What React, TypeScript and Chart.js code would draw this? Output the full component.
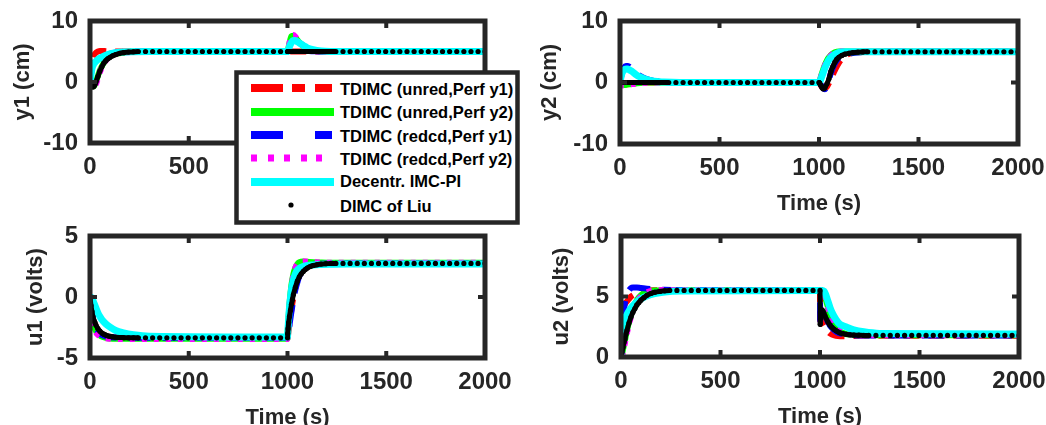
import React, { useEffect, useRef } from 'react';
import { Chart, registerables } from 'chart.js';

Chart.register(...registerables);

const FONT = "'Liberation Sans', Arial, Helvetica, sans-serif";
const INK = '#262626';

// ---------- data ----------
const xTicks = [0, 500, 1000, 1500, 2000];
const seriesNames = [
  'TDIMC (unred,Perf y1)',
  'TDIMC (unred,Perf y2)',
  'TDIMC (redcd,Perf y1)',
  'TDIMC (redcd,Perf y2)',
  'Decentr. IMC-PI',
  'DIMC of Liu',
];

// simulation time grid for the five controller curves
const tSim = [0, 5, 10, 20, 30, 40, 50, 60, 80, 100, 130, 170, 220, 300, 1000, 1001, 1005, 1010, 1020, 1030, 1040, 1050, 1060, 1080, 1100, 1130, 1170, 1220, 1300, 2000];

// y1 (cm)
const y1Red = [0, 1.5, 3.0, 4.3, 4.8, 5.0, 5.1, 5.1, 5.05, 5.0, 5.0, 5.0, 5.0, 5.0, 5.0, 5.0, 5.0, 5.0, 5.0, 5.0, 5.0, 5.0, 5.0, 5.0, 5.0, 5.0, 5.0, 5.0, 5.0, 5.0];
const y1Green = [0, -0.4, -0.7, -0.7, 0.0, 1.0, 1.9, 2.6, 3.6, 4.2, 4.6, 4.85, 4.95, 5.0, 5.0, 5.05, 5.6, 6.4, 7.5, 7.6, 7.3, 6.9, 6.5, 5.9, 5.5, 5.2, 5.05, 5.0, 5.0, 5.0];
const y1Blue = [0, 1.2, 2.5, 3.8, 4.2, 4.0, 3.8, 3.9, 4.3, 4.6, 4.85, 4.95, 5.0, 5.0, 5.0, 5.0, 5.1, 5.2, 5.4, 5.5, 5.5, 5.4, 5.3, 5.2, 5.1, 5.05, 5.0, 5.0, 5.0, 5.0];
const y1Mag = [0, -0.5, -0.9, -1.0, -0.4, 0.6, 1.6, 2.4, 3.5, 4.1, 4.6, 4.85, 4.95, 5.0, 5.0, 5.05, 5.6, 6.4, 7.5, 7.7, 7.4, 7.0, 6.6, 6.0, 5.5, 5.2, 5.05, 5.0, 5.0, 5.0];
const y1Cyan = [0, 1.2, 2.2, 3.0, 3.4, 3.7, 3.9, 4.1, 4.4, 4.6, 4.8, 4.92, 4.97, 5.0, 5.0, 5.0, 5.3, 5.8, 6.5, 6.8, 6.8, 6.6, 6.4, 6.0, 5.6, 5.3, 5.1, 5.02, 5.0, 5.0];

// y2 (cm)
const y2Red = [0, -0.1, -0.2, -0.3, -0.3, -0.3, -0.2, -0.2, -0.1, -0.1, 0, 0, 0, 0, 0, 0, -0.2, -0.5, -0.9, -1.0, -0.7, -0.1, 0.6, 2.0, 3.2, 4.3, 4.8, 4.95, 5.0, 5.0];
const y2Green = [0, -0.2, -0.3, -0.4, -0.4, -0.3, -0.3, -0.2, -0.15, -0.1, 0, 0, 0, 0, 0, 0.05, 0.4, 1.0, 2.0, 2.9, 3.6, 4.1, 4.5, 4.9, 5.05, 5.05, 5.0, 5.0, 5.0, 5.0];
const y2Blue = [0, 0.8, 1.6, 2.4, 2.7, 2.7, 2.5, 2.2, 1.6, 1.1, 0.6, 0.25, 0.1, 0, 0, 0, -0.15, -0.4, -0.9, -1.1, -0.5, 0.5, 1.6, 3.1, 4.0, 4.5, 4.8, 4.95, 5.0, 5.0];
const y2Mag = [0, -0.2, -0.4, -0.5, -0.5, -0.4, -0.3, -0.25, -0.2, -0.1, -0.05, 0, 0, 0, 0, 0.05, 0.3, 0.9, 1.9, 2.8, 3.5, 4.0, 4.4, 4.85, 5.05, 5.05, 5.0, 5.0, 5.0, 5.0];
const y2Cyan = [0, 0.9, 1.5, 2.0, 2.2, 2.2, 2.0, 1.8, 1.3, 0.9, 0.5, 0.2, 0.08, 0, 0, 0, 0.2, 0.6, 1.5, 2.4, 3.1, 3.7, 4.1, 4.6, 4.9, 5.0, 5.0, 5.0, 5.0, 5.0];

// u1 (volts)
const u1Red = [0, -0.9, -1.5, -2.2, -2.6, -2.85, -3.0, -3.1, -3.22, -3.28, -3.32, -3.34, -3.35, -3.35, -3.35, -3.3, -2.8, -2.2, -1.0, 0.0, 0.8, 1.4, 1.8, 2.3, 2.55, 2.7, 2.75, 2.77, 2.77, 2.77];
const u1Green = [0, -0.9, -1.6, -2.4, -2.8, -3.0, -3.15, -3.25, -3.35, -3.4, -3.42, -3.42, -3.42, -3.42, -3.42, -3.0, -1.8, -0.6, 1.0, 1.9, 2.4, 2.7, 2.85, 2.9, 2.88, 2.85, 2.82, 2.8, 2.8, 2.8];
const u1Blue = [0, -0.8, -1.4, -2.1, -2.5, -2.8, -3.0, -3.1, -3.22, -3.28, -3.32, -3.34, -3.35, -3.35, -3.35, -3.3, -2.9, -2.3, -1.2, -0.2, 0.6, 1.2, 1.7, 2.2, 2.5, 2.65, 2.72, 2.75, 2.75, 2.75];
const u1Mag = [0, -1.0, -1.7, -2.5, -2.9, -3.1, -3.2, -3.3, -3.38, -3.42, -3.45, -3.45, -3.45, -3.45, -3.45, -3.1, -2.0, -0.8, 0.8, 1.8, 2.4, 2.7, 2.85, 2.92, 2.9, 2.86, 2.83, 2.8, 2.8, 2.8];
const u1Cyan = [0, 0, -0.1, -0.5, -0.9, -1.3, -1.6, -1.85, -2.2, -2.45, -2.75, -2.95, -3.1, -3.22, -3.28, -3.0, -2.0, -0.9, 0.6, 1.4, 1.9, 2.2, 2.35, 2.5, 2.58, 2.63, 2.66, 2.68, 2.7, 2.7];

// u2 (volts)
const u2Red = [0, 3.8, 4.2, 4.4, 4.6, 4.8, 5.0, 5.1, 5.3, 5.4, 5.5, 5.52, 5.53, 5.53, 5.53, 3.0, 3.0, 2.9, 2.6, 2.3, 2.1, 1.95, 1.85, 1.75, 1.72, 1.72, 1.74, 1.75, 1.76, 1.76];
const u2Green = [0, 0.2, 0.6, 1.4, 2.2, 2.9, 3.5, 4.0, 4.7, 5.1, 5.4, 5.5, 5.52, 5.52, 5.52, 5.52, 5.5, 5.45, 5.2, 4.7, 4.1, 3.5, 3.0, 2.4, 2.1, 1.9, 1.82, 1.8, 1.8, 1.8];
const u2Blue = [0, 1.5, 3.0, 4.5, 5.2, 5.5, 5.7, 5.75, 5.75, 5.7, 5.65, 5.6, 5.55, 5.53, 5.53, 3.0, 3.4, 3.6, 3.5, 3.2, 2.9, 2.6, 2.4, 2.1, 1.95, 1.85, 1.8, 1.78, 1.78, 1.78];
const u2Mag = [0, 0.1, 0.4, 1.2, 2.0, 2.7, 3.3, 3.8, 4.6, 5.0, 5.35, 5.5, 5.53, 5.53, 5.53, 5.53, 5.5, 5.45, 5.25, 4.8, 4.2, 3.6, 3.1, 2.5, 2.15, 1.92, 1.83, 1.8, 1.8, 1.8];
const u2Cyan = [0, 2.5, 2.8, 3.2, 3.5, 3.8, 4.05, 4.25, 4.55, 4.8, 5.05, 5.25, 5.38, 5.45, 5.5, 5.5, 5.5, 5.5, 5.45, 5.1, 4.6, 4.1, 3.7, 3.1, 2.7, 2.5, 2.25, 2.08, 1.95, 1.9];

// DIMC of Liu: solver sample times (dense near set-point changes)
const tLiu = [
  0, 5, 10, 15, 20, 25, 30, 40, 50, 60, 70, 80, 90, 100, 115, 130, 150, 170, 195, 220, 245,
  281, 317, 353, 389, 425, 461, 497, 533, 569, 605, 641, 677, 713, 749, 785, 821, 857, 893, 929, 965,
  1000, 1001, 1003, 1006, 1010, 1015, 1020, 1025, 1030, 1040, 1050, 1060, 1070, 1080, 1090, 1100, 1115, 1130, 1150, 1170, 1195, 1220, 1245,
  1281, 1317, 1353, 1389, 1425, 1461, 1497, 1533, 1569, 1605, 1641, 1677, 1713, 1749, 1785, 1821, 1857, 1893, 1929, 1965, 2000,
];
const y1Liu = [
  0, -0.4, -0.7, -0.8, -0.7, -0.4, 0.0, 0.9, 1.8, 2.5, 3.1, 3.5, 3.8, 4.0, 4.3, 4.5, 4.7, 4.8, 4.9, 4.95, 5.0,
  5, 5, 5, 5, 5, 5, 5, 5, 5, 5, 5, 5, 5, 5, 5, 5, 5, 5, 5, 5,
  5, 5, 5, 5, 5, 5, 5, 5, 5, 5, 5, 5, 5, 5, 5, 5, 5, 5, 5, 5, 5, 5, 5,
  5, 5, 5, 5, 5, 5, 5, 5, 5, 5, 5, 5, 5, 5, 5, 5, 5, 5, 5, 5, 5,
];
const y2Liu = [
  0, 0, 0, 0, 0, 0, 0, 0, 0, 0, 0, 0, 0, 0, 0, 0, 0, 0, 0, 0, 0,
  0, 0, 0, 0, 0, 0, 0, 0, 0, 0, 0, 0, 0, 0, 0, 0, 0, 0, 0, 0,
  0, 0, -0.1, -0.3, -0.5, -0.8, -1.0, -1.0, -0.8, -0.2, 0.6, 1.8, 2.6, 3.3, 3.8, 4.1, 4.4, 4.6, 4.75, 4.85, 4.93, 4.97, 5.0,
  5, 5, 5, 5, 5, 5, 5, 5, 5, 5, 5, 5, 5, 5, 5, 5, 5, 5, 5, 5, 5,
];
const u1Liu = [
  0, -0.7, -1.2, -1.6, -1.9, -2.1, -2.3, -2.6, -2.8, -2.95, -3.05, -3.12, -3.18, -3.22, -3.27, -3.3, -3.32, -3.33, -3.34, -3.35, -3.35,
  -3.35, -3.35, -3.35, -3.35, -3.35, -3.35, -3.35, -3.35, -3.35, -3.35, -3.35, -3.35, -3.35, -3.35, -3.35, -3.35, -3.35, -3.35, -3.35, -3.35,
  -3.35, -3.0, -2.6, -2.1, -1.6, -1.1, -0.6, -0.2, 0.2, 0.8, 1.3, 1.65, 1.9, 2.1, 2.25, 2.37, 2.5, 2.58, 2.65, 2.7, 2.73, 2.75, 2.75,
  2.75, 2.75, 2.75, 2.75, 2.75, 2.75, 2.75, 2.75, 2.75, 2.75, 2.75, 2.75, 2.75, 2.75, 2.75, 2.75, 2.75, 2.75, 2.75, 2.75, 2.75,
];
const u2Liu = [
  0, 0.4, 0.8, 1.2, 1.5, 1.9, 2.2, 2.8, 3.3, 3.7, 4.0, 4.3, 4.5, 4.7, 4.9, 5.1, 5.25, 5.35, 5.42, 5.47, 5.5,
  5.5, 5.5, 5.5, 5.5, 5.5, 5.5, 5.5, 5.5, 5.5, 5.5, 5.5, 5.5, 5.5, 5.5, 5.5, 5.5, 5.5, 5.5, 5.5, 5.5,
  5.5, 2.7, 3.3, 3.7, 3.9, 3.8, 3.6, 3.4, 3.2, 2.9, 2.65, 2.45, 2.3, 2.18, 2.08, 2.0, 1.93, 1.88, 1.84, 1.81, 1.8, 1.78, 1.78,
  1.78, 1.78, 1.78, 1.78, 1.78, 1.78, 1.78, 1.78, 1.78, 1.78, 1.78, 1.78, 1.78, 1.78, 1.78, 1.78, 1.78, 1.78, 1.78, 1.78, 1.78,
];

// ---------- styling ----------
const seriesStyles = [
  { color: '#ff0000', width: 6, dash: [16, 9], order: 5 },
  { color: '#00ff00', width: 6, dash: [], order: 4 },
  { color: '#0000ff', width: 6, dash: [22, 12], order: 3 },
  { color: '#ff00ff', width: 6, dash: [5, 7], order: 2 },
  { color: '#00ffff', width: 7, dash: [], order: 1 },
];

type Panel = {
  id: string;
  yLabel: string;
  yMin: number;
  yMax: number;
  yStep: number;
  series: number[][];
  liu: number[];
  box: { left: number; right: number; top: number; bottom: number };
  yTitleCenter: number;
};

const panels: Panel[] = [
  { id: 'y1', yLabel: 'y1 (cm)', yMin: -10, yMax: 10, yStep: 10, series: [y1Red, y1Green, y1Blue, y1Mag, y1Cyan], liu: y1Liu, box: { left: 90, right: 485, top: 21, bottom: 143 }, yTitleCenter: 23 },
  { id: 'y2', yLabel: 'y2 (cm)', yMin: -10, yMax: 10, yStep: 10, series: [y2Red, y2Green, y2Blue, y2Mag, y2Cyan], liu: y2Liu, box: { left: 620, right: 1018, top: 21, bottom: 144 }, yTitleCenter: 550 },
  { id: 'u1', yLabel: 'u1 (volts)', yMin: -5, yMax: 5, yStep: 5, series: [u1Red, u1Green, u1Blue, u1Mag, u1Cyan], liu: u1Liu, box: { left: 90, right: 485, top: 236, bottom: 358 }, yTitleCenter: 36 },
  { id: 'u2', yLabel: 'u2 (volts)', yMin: 0, yMax: 10, yStep: 5, series: [u2Red, u2Green, u2Blue, u2Mag, u2Cyan], liu: u2Liu, box: { left: 621, right: 1019, top: 236, bottom: 357 }, yTitleCenter: 562 },
];

const Y_AXIS_W = 90;
const X_AXIS_H = 76;
const PAD_TOP = 28;
const PAD_RIGHT = 42;
const TICK_FONT = { family: FONT, size: 24, weight: 'bold' as const };
const TITLE_FONT = { family: FONT, size: 22, weight: 'bold' as const };

function canvasGeom(p: Panel) {
  const left = p.box.left - Y_AXIS_W;
  const top = p.box.top - PAD_TOP;
  const width = Y_AXIS_W + (p.box.right - p.box.left) + PAD_RIGHT;
  const height = PAD_TOP + (p.box.bottom - p.box.top) + X_AXIS_H;
  return { left, top, width, height };
}

const framePlugin = {
  id: 'matlabFrame',
  afterDraw(chart: any) {
    const { ctx, chartArea, scales } = chart;
    const { left, right, top, bottom } = chartArea;
    ctx.save();
    ctx.strokeStyle = INK;
    ctx.lineWidth = 5;
    ctx.strokeRect(left, top, right - left, bottom - top);
    ctx.fillStyle = INK;
    const xs = scales.x;
    const ys = scales.y;
    xs.ticks.forEach((t: any) => {
      if (t.value > xs.min && t.value < xs.max) {
        const px = xs.getPixelForValue(t.value);
        ctx.fillRect(px - 2, top, 4, 7);
        ctx.fillRect(px - 2, bottom - 7, 4, 7);
      }
    });
    ys.ticks.forEach((t: any) => {
      if (t.value > ys.min && t.value < ys.max) {
        const py = ys.getPixelForValue(t.value);
        ctx.fillRect(left, py - 2, 7, 4);
        ctx.fillRect(right - 7, py - 2, 7, 4);
      }
    });
    ctx.restore();
  },
};

function buildConfig(p: Panel): any {
  const datasets: any[] = p.series.map((vals, i) => {
    const s = seriesStyles[i];
    return {
      label: seriesNames[i],
      data: tSim.map((t, k) => ({ x: t, y: vals[k] })),
      borderColor: s.color,
      backgroundColor: s.color,
      borderWidth: s.width,
      borderDash: s.dash,
      borderCapStyle: 'butt',
      pointRadius: 0,
      fill: false,
      cubicInterpolationMode: 'monotone',
      order: s.order,
    };
  });
  datasets.push({
    label: seriesNames[5],
    data: tLiu.map((t, k) => ({ x: t, y: p.liu[k] })),
    borderColor: '#000000',
    backgroundColor: '#000000',
    borderWidth: 5,
    pointRadius: 2.6,
    pointBorderWidth: 0,
    pointBackgroundColor: '#000000',
    fill: false,
    cubicInterpolationMode: 'monotone',
    segment: {
      borderColor: (ctx: any) => (ctx.p1.parsed.x - ctx.p0.parsed.x < 26 ? '#000000' : 'rgba(0,0,0,0)'),
    },
    order: 0,
  });

  const plain = (v: any) => String(v);

  return {
    type: 'line',
    data: { datasets },
    options: {
      animation: false,
      responsive: false,
      maintainAspectRatio: false,
      events: [],
      layout: { padding: { top: PAD_TOP, right: PAD_RIGHT, left: 0, bottom: 0 } },
      plugins: { legend: { display: false }, tooltip: { enabled: false } },
      scales: {
        x: {
          type: 'linear',
          min: 0,
          max: 2000,
          afterFit: (s: any) => { s.height = X_AXIS_H; },
          afterBuildTicks: (s: any) => { s.ticks = xTicks.map((v) => ({ value: v })); },
          grid: { display: false, drawTicks: false },
          border: { display: false },
          ticks: { font: TICK_FONT, color: INK, padding: 10, maxRotation: 0, autoSkip: false, callback: plain },
          title: {
            display: true,
            text: 'Time (s)',
            font: TITLE_FONT,
            color: INK,
            padding: { top: 0, bottom: X_AXIS_H - 60 - TITLE_FONT.size * 0.6 },
          },
        },
        y: {
          type: 'linear',
          min: p.yMin,
          max: p.yMax,
          afterFit: (s: any) => { s.width = Y_AXIS_W; },
          grid: { display: false, drawTicks: false },
          border: { display: false },
          ticks: { stepSize: p.yStep, font: TICK_FONT, color: INK, padding: 12, callback: plain },
          title: {
            display: true,
            text: p.yLabel,
            font: TITLE_FONT,
            color: INK,
            padding: { top: p.yTitleCenter - (p.box.left - Y_AXIS_W) - TITLE_FONT.size * 0.6, bottom: 0 },
          },
        },
      },
    },
    plugins: [framePlugin],
  };
}

function PanelChart({ p }: { p: Panel }) {
  const ref = useRef<HTMLCanvasElement | null>(null);
  const g = canvasGeom(p);
  useEffect(() => {
    if (!ref.current) return;
    const chart = new Chart(ref.current, buildConfig(p));
    return () => chart.destroy();
  }, []);
  return (
    <canvas
      ref={ref}
      width={g.width}
      height={g.height}
      style={{ position: 'absolute', left: g.left, top: g.top, width: g.width, height: g.height }}
    />
  );
}

function Legend() {
  const rows = [18, 42, 65, 88, 112, 135];
  const textRows = [19, 42, 66, 89, 111, 136];
  return (
    <svg
      width={286}
      height={156}
      style={{ position: 'absolute', left: 234, top: 70 }}
    >
      <rect x={2.5} y={2.5} width={281} height={150} fill="#ffffff" stroke={INK} strokeWidth={4.5} />
      {/* red dashed */}
      <rect x={17} y={rows[0] - 4} width={32} height={8} fill="#ff0000" />
      <rect x={58} y={rows[0] - 4} width={13} height={8} fill="#ff0000" />
      <rect x={81} y={rows[0] - 4} width={17} height={8} fill="#ff0000" />
      {/* green solid */}
      <rect x={17} y={rows[1] - 4} width={83} height={8} fill="#00ff00" />
      {/* blue dash-dot */}
      <rect x={17} y={rows[2] - 4} width={32} height={8} fill="#0000ff" />
      <rect x={81} y={rows[2] - 4} width={17} height={8} fill="#0000ff" />
      {/* magenta dotted */}
      {[17, 34, 50, 67, 82].map((x) => (
        <rect key={x} x={x} y={rows[3] - 3.5} width={6} height={7} fill="#ff00ff" />
      ))}
      {/* cyan solid */}
      <rect x={17} y={rows[4] - 4} width={83} height={8} fill="#00ffff" />
      {/* black dot */}
      <circle cx={57} cy={rows[5]} r={2.6} fill="#000000" />
      {seriesNames.map((name, i) => (
        <text
          key={name}
          x={106}
          y={textRows[i] + 6}
          fontFamily={FONT}
          fontWeight="bold"
          fontSize={16.5}
          fill="#000000"
        >
          {name}
        </text>
      ))}
    </svg>
  );
}

export default function App() {
  return (
    <div
      style={{
        position: 'absolute',
        left: 0,
        top: 0,
        width: 1046,
        height: 425,
        overflow: 'hidden',
        background: '#ffffff',
      }}
    >
      {panels.map((p) => (
        <PanelChart key={p.id} p={p} />
      ))}
      <Legend />
    </div>
  );
}
